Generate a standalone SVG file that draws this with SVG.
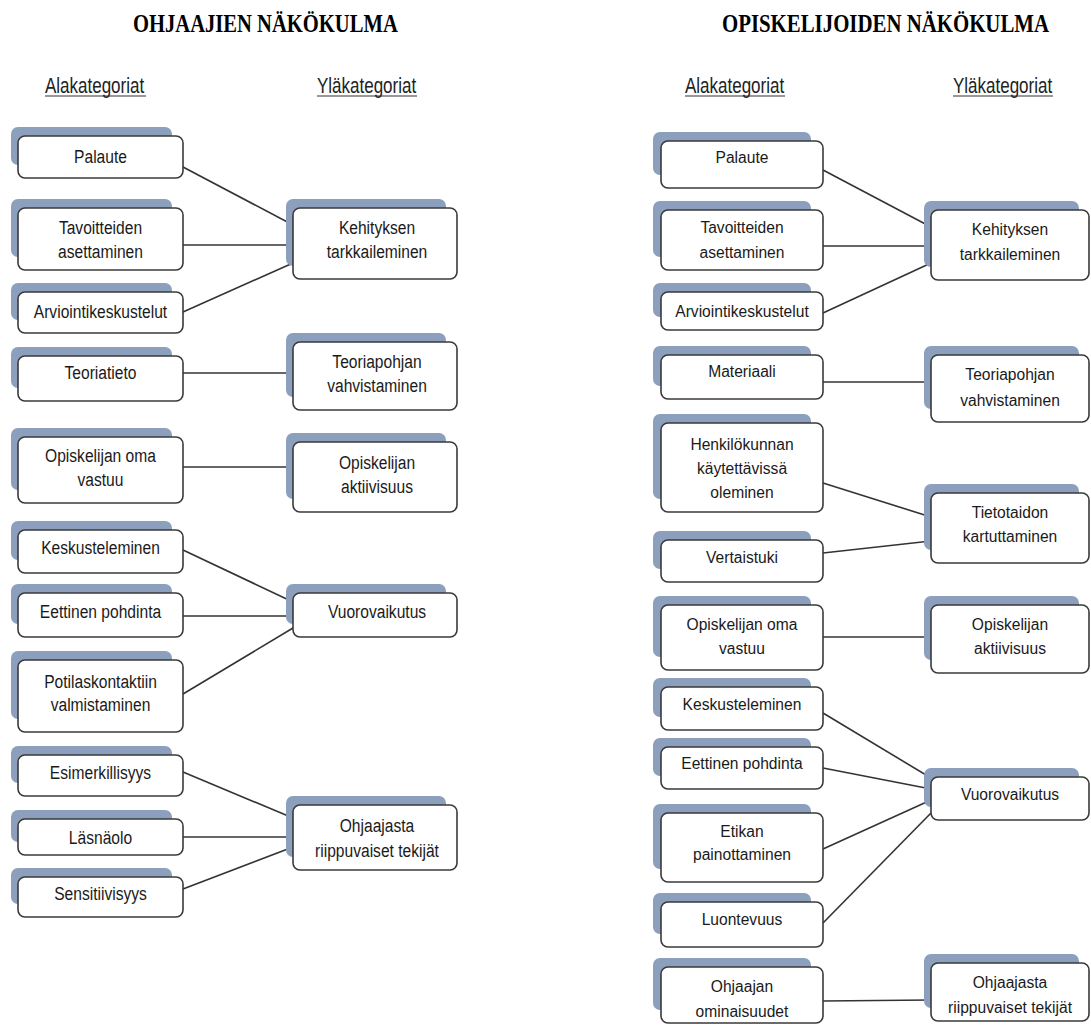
<svg xmlns="http://www.w3.org/2000/svg" width="1091" height="1026" viewBox="0 0 1091 1026">
<style>
.sh{fill:#8c9fbd}
.bx{fill:#fff;stroke:#3a3a3a;stroke-width:1.6}
.t{font-family:'Liberation Sans',Arial,sans-serif;font-size:15.6px;fill:#1a1a1a;text-anchor:middle}
.hd{font-family:'Liberation Sans',Arial,sans-serif;font-size:17px;fill:#222;text-anchor:start}
.ti{font-family:'Liberation Serif','Times New Roman',serif;font-size:25px;font-weight:bold;fill:#000}
.ul{stroke:#333;stroke-width:1.2}
.c{stroke:#333;stroke-width:1.6;fill:none}
</style>
<rect width="1091" height="1026" fill="#fff"/>

<g id="titles">
<text class="ti" transform="translate(133,32) scale(0.824,1)">OHJAAJIEN NÄKÖKULMA</text>
<text class="ti" transform="translate(722,32) scale(0.834,1)">OPISKELIJOIDEN NÄKÖKULMA</text>
<text class="hd" transform="translate(45,93) scale(1,1.28)">Alakategoriat</text>
<line class="ul" x1="45" y1="96" x2="146" y2="96"/>
<text class="hd" transform="translate(317,93) scale(1,1.28)">Yläkategoriat</text>
<line class="ul" x1="317" y1="96" x2="417" y2="96"/>
<text class="hd" transform="translate(685,93) scale(1,1.28)">Alakategoriat</text>
<line class="ul" x1="685" y1="96" x2="785" y2="96"/>
<text class="hd" transform="translate(953,93) scale(1,1.28)">Yläkategoriat</text>
<line class="ul" x1="953" y1="96" x2="1053" y2="96"/>
</g>

<g id="connectors">
<line class="c" x1="183" y1="167" x2="293" y2="225"/>
<line class="c" x1="183" y1="245" x2="293" y2="245"/>
<line class="c" x1="183" y1="312" x2="293" y2="263"/>
<line class="c" x1="183" y1="373" x2="293" y2="373"/>
<line class="c" x1="183" y1="467" x2="293" y2="467"/>
<line class="c" x1="183" y1="550" x2="293" y2="602"/>
<line class="c" x1="183" y1="616" x2="293" y2="616"/>
<line class="c" x1="183" y1="694" x2="293" y2="628"/>
<line class="c" x1="183" y1="772" x2="293" y2="818"/>
<line class="c" x1="183" y1="837" x2="293" y2="837"/>
<line class="c" x1="183" y1="889" x2="293" y2="847"/>

<line class="c" x1="823" y1="170" x2="931" y2="227"/>
<line class="c" x1="823" y1="246" x2="931" y2="246"/>
<line class="c" x1="823" y1="313" x2="931" y2="263"/>
<line class="c" x1="823" y1="382" x2="931" y2="382"/>
<line class="c" x1="823" y1="483" x2="931" y2="517"/>
<line class="c" x1="823" y1="553" x2="931" y2="541"/>
<line class="c" x1="823" y1="637" x2="931" y2="637"/>
<line class="c" x1="823" y1="713" x2="931" y2="778"/>
<line class="c" x1="823" y1="768" x2="931" y2="789"/>
<line class="c" x1="823" y1="849" x2="931" y2="800"/>
<line class="c" x1="823" y1="923" x2="931" y2="813"/>
<line class="c" x1="823" y1="1001" x2="931" y2="1000"/>
</g>

<!-- Left lower nodes -->
<g id="l-palaute"><rect class="sh" x="11" y="127" width="161" height="38" rx="7"/><rect class="bx" x="18" y="136" width="165" height="42" rx="7"/>
<text class="t" transform="translate(100.5,162.5) scale(1,1.15)">Palaute</text></g>
<g id="l-tavoitteiden"><rect class="sh" x="11" y="199" width="161" height="58" rx="7"/><rect class="bx" x="18" y="208" width="165" height="62" rx="7"/>
<text class="t" transform="translate(100.5,233.5) scale(1,1.15)"><tspan x="0">Tavoitteiden</tspan><tspan x="0" dy="21.3">asettaminen</tspan></text></g>
<g id="l-arviointi"><rect class="sh" x="11" y="283" width="161" height="37" rx="7"/><rect class="bx" x="18" y="292" width="165" height="41" rx="7"/>
<text class="t" transform="translate(100.5,318) scale(1,1.15)">Arviointikeskustelut</text></g>
<g id="l-teoriatieto"><rect class="sh" x="11" y="347" width="161" height="41" rx="7"/><rect class="bx" x="18" y="356" width="165" height="45" rx="7"/>
<text class="t" transform="translate(100.5,378.5) scale(1,1.15)">Teoriatieto</text></g>
<g id="l-oma-vastuu"><rect class="sh" x="11" y="428" width="161" height="62" rx="7"/><rect class="bx" x="18" y="437" width="165" height="66" rx="7"/>
<text class="t" transform="translate(100.5,461.5) scale(1,1.15)"><tspan x="0">Opiskelijan oma</tspan><tspan x="0" dy="21.3">vastuu</tspan></text></g>
<g id="l-keskusteleminen"><rect class="sh" x="11" y="521" width="161" height="39" rx="7"/><rect class="bx" x="18" y="530" width="165" height="43" rx="7"/>
<text class="t" transform="translate(100.5,553.5) scale(1,1.15)">Keskusteleminen</text></g>
<g id="l-eettinen"><rect class="sh" x="11" y="584" width="161" height="40" rx="7"/><rect class="bx" x="18" y="593" width="165" height="44" rx="7"/>
<text class="t" transform="translate(100.5,617.5) scale(1,1.15)">Eettinen pohdinta</text></g>
<g id="l-potilas"><rect class="sh" x="11" y="651" width="161" height="68" rx="7"/><rect class="bx" x="18" y="660" width="165" height="72" rx="7"/>
<text class="t" transform="translate(100.5,687.5) scale(1,1.15)"><tspan x="0">Potilaskontaktiin</tspan><tspan x="0" dy="20.5">valmistaminen</tspan></text></g>
<g id="l-esimerkillisyys"><rect class="sh" x="11" y="746" width="161" height="37" rx="7"/><rect class="bx" x="18" y="755" width="165" height="41" rx="7"/>
<text class="t" transform="translate(100.5,778.5) scale(1,1.15)">Esimerkillisyys</text></g>
<g id="l-lasnaolo"><rect class="sh" x="11" y="810" width="161" height="32" rx="7"/><rect class="bx" x="18" y="819" width="165" height="36" rx="7"/>
<text class="t" transform="translate(100.5,843.5) scale(1,1.15)">Läsnäolo</text></g>
<g id="l-sensitiivisyys"><rect class="sh" x="11" y="868" width="161" height="36" rx="7"/><rect class="bx" x="18" y="877" width="165" height="40" rx="7"/>
<text class="t" transform="translate(100.5,899.5) scale(1,1.15)">Sensitiivisyys</text></g>

<!-- Left upper nodes -->
<g id="l-kehityksen"><rect class="sh" x="286" y="199" width="160" height="67" rx="7"/><rect class="bx" x="293" y="208" width="164" height="71" rx="7"/>
<text class="t" transform="translate(377,233.5) scale(1,1.15)"><tspan x="0">Kehityksen</tspan><tspan x="0" dy="21.5">tarkkaileminen</tspan></text></g>
<g id="l-teoriapohjan"><rect class="sh" x="286" y="333" width="160" height="64" rx="7"/><rect class="bx" x="293" y="342" width="164" height="68" rx="7"/>
<text class="t" transform="translate(377,367.5) scale(1,1.15)"><tspan x="0">Teoriapohjan</tspan><tspan x="0" dy="21.5">vahvistaminen</tspan></text></g>
<g id="l-aktiivisuus"><rect class="sh" x="286" y="433" width="160" height="66" rx="7"/><rect class="bx" x="293" y="442" width="164" height="70" rx="7"/>
<text class="t" transform="translate(377,468.5) scale(1,1.15)"><tspan x="0">Opiskelijan</tspan><tspan x="0" dy="21">aktiivisuus</tspan></text></g>
<g id="l-vuorovaikutus"><rect class="sh" x="286" y="584" width="160" height="40" rx="7"/><rect class="bx" x="293" y="593" width="164" height="44" rx="7"/>
<text class="t" transform="translate(377,617.5) scale(1,1.15)">Vuorovaikutus</text></g>
<g id="l-ohjaajasta"><rect class="sh" x="286" y="796" width="160" height="61" rx="7"/><rect class="bx" x="293" y="805" width="164" height="65" rx="7"/>
<text class="t" transform="translate(377,831.5) scale(1,1.15)"><tspan x="0">Ohjaajasta</tspan><tspan x="0" dy="22.5">riippuvaiset tekijät</tspan></text></g>

<!-- Right lower nodes -->
<g id="r-palaute"><rect class="sh" x="653" y="132" width="158" height="43" rx="7"/><rect class="bx" x="661" y="141" width="162" height="47" rx="7"/>
<text class="t" x="742" y="163">Palaute</text></g>
<g id="r-tavoitteiden"><rect class="sh" x="653" y="201" width="158" height="56" rx="7"/><rect class="bx" x="661" y="210" width="162" height="60" rx="7"/>
<text class="t" x="742" y="233"><tspan x="742">Tavoitteiden</tspan><tspan x="742" dy="25">asettaminen</tspan></text></g>
<g id="r-arviointi"><rect class="sh" x="653" y="283" width="158" height="34" rx="7"/><rect class="bx" x="661" y="292" width="162" height="38" rx="7"/>
<text class="t" x="742" y="317">Arviointikeskustelut</text></g>
<g id="r-materiaali"><rect class="sh" x="653" y="346" width="158" height="40" rx="7"/><rect class="bx" x="661" y="355" width="162" height="44" rx="7"/>
<text class="t" x="742" y="377">Materiaali</text></g>
<g id="r-henkilokunnan"><rect class="sh" x="653" y="414" width="158" height="85" rx="7"/><rect class="bx" x="661" y="423" width="162" height="89" rx="7"/>
<text class="t" x="742" y="450"><tspan x="742">Henkilökunnan</tspan><tspan x="742" dy="24">käytettävissä</tspan><tspan x="742" dy="24">oleminen</tspan></text></g>
<g id="r-vertaistuki"><rect class="sh" x="653" y="531" width="158" height="38" rx="7"/><rect class="bx" x="661" y="540" width="162" height="42" rx="7"/>
<text class="t" x="742" y="563">Vertaistuki</text></g>
<g id="r-oma-vastuu"><rect class="sh" x="653" y="596" width="158" height="61" rx="7"/><rect class="bx" x="661" y="605" width="162" height="65" rx="7"/>
<text class="t" x="742" y="630"><tspan x="742">Opiskelijan oma</tspan><tspan x="742" dy="24">vastuu</tspan></text></g>
<g id="r-keskusteleminen"><rect class="sh" x="653" y="678" width="158" height="39" rx="7"/><rect class="bx" x="661" y="687" width="162" height="43" rx="7"/>
<text class="t" x="742" y="710">Keskusteleminen</text></g>
<g id="r-eettinen"><rect class="sh" x="653" y="738" width="158" height="38" rx="7"/><rect class="bx" x="661" y="747" width="162" height="42" rx="7"/>
<text class="t" x="742" y="769">Eettinen pohdinta</text></g>
<g id="r-etikan"><rect class="sh" x="653" y="804" width="158" height="65" rx="7"/><rect class="bx" x="661" y="813" width="162" height="69" rx="7"/>
<text class="t" x="742" y="837"><tspan x="742">Etikan</tspan><tspan x="742" dy="23">painottaminen</tspan></text></g>
<g id="r-luontevuus"><rect class="sh" x="653" y="893" width="158" height="41" rx="7"/><rect class="bx" x="661" y="902" width="162" height="45" rx="7"/>
<text class="t" x="742" y="925">Luontevuus</text></g>
<g id="r-ohjaajan"><rect class="sh" x="653" y="958" width="158" height="52" rx="7"/><rect class="bx" x="661" y="967" width="162" height="56" rx="7"/>
<text class="t" x="742" y="992"><tspan x="742">Ohjaajan</tspan><tspan x="742" dy="25">ominaisuudet</tspan></text></g>

<!-- Right upper nodes -->
<g id="r-kehityksen"><rect class="sh" x="924" y="201" width="155" height="66" rx="7"/><rect class="bx" x="931" y="210" width="158" height="70" rx="7"/>
<text class="t" x="1010" y="235"><tspan x="1010">Kehityksen</tspan><tspan x="1010" dy="25">tarkkaileminen</tspan></text></g>
<g id="r-teoriapohjan"><rect class="sh" x="924" y="346" width="155" height="63" rx="7"/><rect class="bx" x="931" y="355" width="158" height="67" rx="7"/>
<text class="t" x="1010" y="380"><tspan x="1010">Teoriapohjan</tspan><tspan x="1010" dy="26">vahvistaminen</tspan></text></g>
<g id="r-tietotaidon"><rect class="sh" x="924" y="484" width="155" height="66" rx="7"/><rect class="bx" x="931" y="493" width="158" height="70" rx="7"/>
<text class="t" x="1010" y="518"><tspan x="1010">Tietotaidon</tspan><tspan x="1010" dy="24">kartuttaminen</tspan></text></g>
<g id="r-aktiivisuus"><rect class="sh" x="924" y="596" width="155" height="64" rx="7"/><rect class="bx" x="931" y="605" width="158" height="68" rx="7"/>
<text class="t" x="1010" y="630"><tspan x="1010">Opiskelijan</tspan><tspan x="1010" dy="24">aktiivisuus</tspan></text></g>
<g id="r-vuorovaikutus"><rect class="sh" x="924" y="768" width="155" height="39" rx="7"/><rect class="bx" x="931" y="777" width="158" height="43" rx="7"/>
<text class="t" x="1010" y="800">Vuorovaikutus</text></g>
<g id="r-ohjaajasta"><rect class="sh" x="924" y="954" width="155" height="54" rx="7"/><rect class="bx" x="931" y="963" width="158" height="58" rx="7"/>
<text class="t" x="1010" y="988"><tspan x="1010">Ohjaajasta</tspan><tspan x="1010" dy="25">riippuvaiset tekijät</tspan></text></g>
</svg>
